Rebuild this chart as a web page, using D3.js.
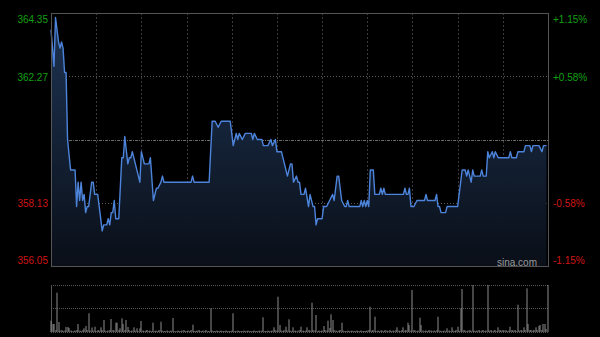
<!DOCTYPE html>
<html>
<head>
<meta charset="utf-8">
<script src="https://cdn.jsdelivr.net/npm/d3@7"></script>
<style>
  html, body { margin: 0; padding: 0; background: #000; }
  svg { display: block; font-family: Arial, "Liberation Sans", sans-serif; }
</style>
</head>
<body>
<svg id="chart"></svg>
<script>
// minutes after the open (HK session: 330 trading minutes) and last price
const minutes = [0,2,3,5,6,7,8,9,10,11,13,16,17,18,19,20,21,22,23,24,25,27,28,29,31,34,35,37,38,39,
  40,41,42,43,45,47,48,49,51,52,53,54,59,60,62,65,66,68,70,71,73,74,75,93,94,95,105,107,109,111,
  113,119,121,122,123,124,125,127,129,133,134,135,137,140,141,144,146,147,149,150,153,155,157,159,160,161,163,164,165,166,
  168,169,171,172,174,175,176,177,180,181,183,185,187,188,190,191,193,195,196,197,198,205,206,207,208,209,210,211,212,214,
  215,218,219,220,221,222,234,235,236,237,238,239,241,243,248,249,250,255,256,257,258,259,262,263,270,273,275,276,277,278,
  279,280,281,285,286,287,289,290,291,293,294,295,297,304,305,306,309,310,314,315,318,319,320,324,326,327,329];
const prices = [363.8,362.6,364.2,363.4,363.2,363.4,363.2,362.4,362.4,360.2,359.2,359.2,358.0,358.8,358.2,358.8,358.2,358.4,357.8,358.0,358.0,358.8,358.8,358.4,358.4,357.2,357.4,357.4,357.6,357.4,
  357.8,357.8,358.2,357.6,357.6,359.6,359.6,360.3,359.4,359.6,359.6,359.8,358.8,359.8,359.4,359.4,359.6,358.2,358.6,358.6,358.8,359.0,358.8,358.8,359.0,358.8,358.8,360.8,360.8,360.6,
  360.8,360.8,360.0,360.2,360.4,360.2,360.4,360.2,360.4,360.4,360.2,360.4,360.2,360.2,360.0,360.0,360.2,360.0,360.2,359.8,359.8,359.4,359.0,359.4,359.4,358.8,359.0,358.8,358.8,358.4,
  358.4,358.6,358.0,358.4,358.0,358.0,357.4,357.6,357.6,358.0,358.0,358.2,358.4,358.2,359.0,359.0,358.2,358.0,358.0,358.2,358.0,358.0,358.2,358.0,358.2,358.0,358.2,358.0,359.2,359.2,
  358.4,358.4,358.6,358.4,358.6,358.4,358.4,358.6,358.4,358.4,358.6,358.0,358.0,358.2,358.2,358.4,358.2,358.2,358.4,358.0,358.0,357.8,357.8,358.0,358.0,359.2,359.2,359.0,359.2,359.0,
  358.8,359.2,359.0,359.0,359.2,359.0,359.0,359.8,359.6,359.8,359.6,359.8,359.6,359.6,359.8,359.6,359.6,359.8,359.8,360.0,360.0,359.8,360.0,360.0,359.8,360.0,360.0];

// volume per minute (minute 0 .. 330)
const volumes = [
  113,80,80,20,393,100,15,20,10,15,50,50,40,15,10,10,15,20,80,15,
  10,20,37,60,20,187,15,45,15,53,10,20,15,47,20,120,15,10,15,20,
  130,20,15,93,93,20,37,137,80,20,120,50,20,10,15,47,15,37,10,37,
  110,15,10,15,20,10,15,10,93,10,15,10,20,103,15,10,10,15,10,10,
  15,140,10,10,15,10,10,15,20,10,10,15,10,20,73,10,10,15,20,10,
  10,15,10,20,10,10,237,15,10,10,15,10,10,15,10,10,15,10,10,10,
  15,187,10,10,15,10,10,10,15,10,10,15,10,10,10,15,10,10,15,10,
  15,147,10,10,15,10,10,15,47,20,15,353,70,15,10,20,53,15,127,15,
  10,47,15,10,15,20,53,15,10,15,47,20,15,293,20,15,170,10,15,10,
  15,60,20,15,113,40,177,120,20,15,10,15,20,93,15,10,10,15,10,10,
  15,10,10,15,10,10,15,10,10,10,15,20,253,15,20,153,10,15,10,15,
  15,10,20,15,10,20,10,15,10,20,47,15,10,20,47,15,20,93,70,15,
  420,20,15,10,15,143,70,15,10,15,10,20,15,10,15,10,20,153,15,10,
  10,15,10,37,15,10,47,15,10,20,53,15,237,430,20,15,10,15,20,10,
  470,15,10,15,20,10,15,20,10,15,470,15,20,10,15,20,10,47,20,15,
  20,15,20,10,15,53,20,15,20,10,273,15,20,15,47,20,437,80,20,20,
  15,20,47,20,60,70,20,80,80,30,470];

const prevClose = 360.20;
const leftLabels = ['364.35', '362.27', '358.13', '356.05'];
const rightLabels = ['+1.15%', '+0.58%', '-0.58%', '-1.15%'];
const totalMinutes = 330;

const W = 600, H = 337;
const main = { left: 51, right: 548, top: 13, bottom: 266 };
const vol = { top: 285, bottom: 332 };

const svg = d3.select('#chart').attr('width', W).attr('height', H);
svg.append('rect').attr('width', W).attr('height', H).attr('fill', '#000');

const x = d3.scaleLinear().domain([0, totalMinutes]).range([main.left, main.right]);
const y = d3.scaleLinear().domain([356.05, 364.35]).range([main.bottom, main.top]);
const yv = d3.scaleLinear().domain([0, d3.max(volumes)]).range([vol.bottom, vol.top]);

const data = minutes.map((m, i) => ({ m: m, p: prices[i] }));

// gradient under the line
const defs = svg.append('defs');
const grad = defs.append('linearGradient').attr('id', 'areaGrad')
  .attr('x1', 0).attr('y1', 0).attr('x2', 0).attr('y2', 1);
grad.append('stop').attr('offset', '0%').attr('stop-color', '#1e3556').attr('stop-opacity', 0.95);
grad.append('stop').attr('offset', '100%').attr('stop-color', '#0a0f18').attr('stop-opacity', 1);

// vertical grid every 30 minutes
const vTicks = d3.range(30, totalMinutes, 30);
svg.append('g').selectAll('line').data(vTicks).join('line')
  .attr('x1', d => Math.round(x(d)) + 0.5).attr('x2', d => Math.round(x(d)) + 0.5)
  .attr('y1', main.top).attr('y2', main.bottom)
  .attr('stroke', '#3c3c3c').attr('stroke-dasharray', '2,2');

// horizontal grid
svg.append('g').selectAll('line').data([362.27, 358.13]).join('line')
  .attr('x1', main.left).attr('x2', main.right)
  .attr('y1', d => Math.round(y(d)) + 0.5).attr('y2', d => Math.round(y(d)) + 0.5)
  .attr('stroke', '#5a5a5a').attr('stroke-dasharray', '1,2');
svg.append('line')
  .attr('x1', main.left).attr('x2', main.right)
  .attr('y1', Math.round(y(prevClose)) + 0.5).attr('y2', Math.round(y(prevClose)) + 0.5)
  .attr('stroke', '#6a6a6a').attr('stroke-dasharray', '3,1,1,1');

// area + line
const area = d3.area().x(d => x(d.m)).y0(main.bottom).y1(d => y(d.p));
const line = d3.line().x(d => x(d.m)).y(d => y(d.p));

svg.append('path').datum(data).attr('d', area).attr('fill', 'url(#areaGrad)');
svg.append('path').datum(data).attr('d', line)
  .attr('fill', 'none').attr('stroke', '#4d84db').attr('stroke-width', 1.4)
  .attr('stroke-linejoin', 'round');

// frame
svg.append('rect')
  .attr('x', main.left + 0.5).attr('y', main.top + 0.5)
  .attr('width', main.right - main.left).attr('height', main.bottom - main.top)
  .attr('fill', 'none').attr('stroke', '#555');

// axis labels
const labelY = [19, 77, 203, 260];
svg.append('g').selectAll('text').data(leftLabels).join('text')
  .attr('x', 48).attr('y', (d, i) => labelY[i]).attr('dy', '0.35em')
  .attr('text-anchor', 'end').style('font-size', '10px')
  .attr('fill', (d, i) => i < 2 ? '#12a012' : '#d01414')
  .text(d => d);
svg.append('g').selectAll('text').data(rightLabels).join('text')
  .attr('x', 553).attr('y', (d, i) => labelY[i]).attr('dy', '0.35em')
  .attr('text-anchor', 'start').style('font-size', '10px')
  .attr('fill', (d, i) => i < 2 ? '#12a012' : '#d01414')
  .text(d => d);

svg.append('text')
  .attr('x', 537).attr('y', 262).attr('dy', '0.35em')
  .attr('text-anchor', 'end').style('font-size', '10px')
  .attr('fill', '#9a9a9a').text('sina.com');

// volume panel
svg.append('g').selectAll('line').data([vol.top, (vol.top + vol.bottom) / 2 - 0.5, vol.bottom]).join('line')
  .attr('x1', main.left).attr('x2', main.right)
  .attr('y1', d => Math.round(d) + 0.5).attr('y2', d => Math.round(d) + 0.5)
  .attr('stroke', '#555').attr('stroke-dasharray', '1,1');
svg.append('line')
  .attr('x1', main.left + 0.5).attr('x2', main.left + 0.5)
  .attr('y1', vol.top).attr('y2', vol.bottom)
  .attr('stroke', '#555');

svg.append('g').selectAll('rect').data(volumes).join('rect')
  .attr('x', (d, i) => Math.round(x(i)) - 0.5)
  .attr('y', d => yv(d))
  .attr('width', 1)
  .attr('height', d => vol.bottom - yv(d))
  .attr('fill', '#8c8c8c');
</script>
</body>
</html>
